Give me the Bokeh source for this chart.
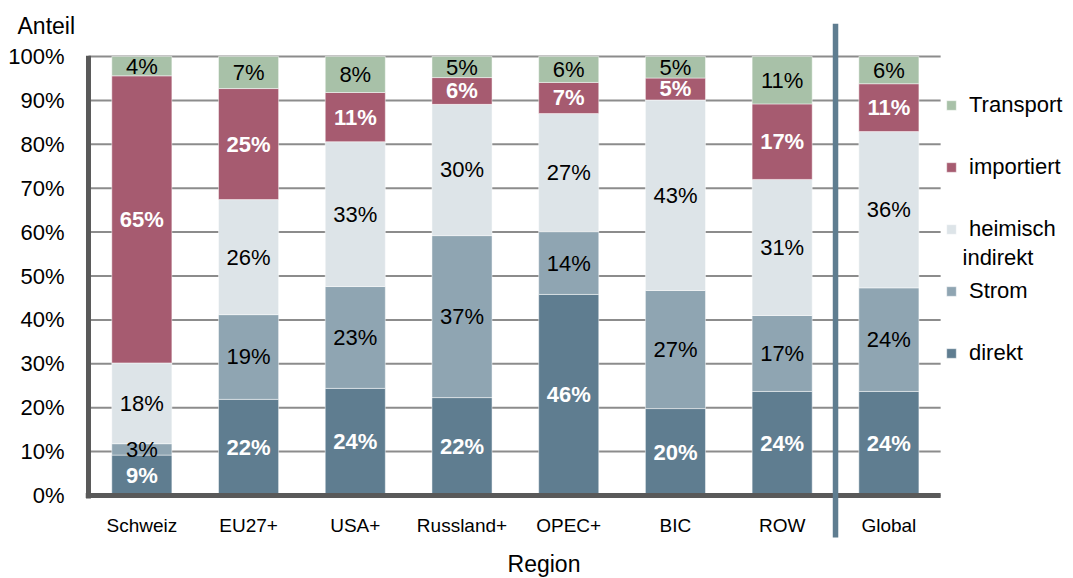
from bokeh.plotting import figure
from bokeh.models import (Range1d, FixedTicker, PrintfTickFormatter, Legend, LegendItem,
                          Label, ColumnDataSource)
from bokeh.core.properties import value
from bokeh.embed import file_html
from bokeh.resources import INLINE

# Anteile der Emissionen je Region (in %)
regions = ["Schweiz", "EU27+", "USA+", "Russland+", "OPEC+", "BIC", "ROW", "Global"]
direkt = [9.2, 21.9, 24.4, 22.3, 45.8, 19.8, 23.7, 23.7]
strom = [2.6, 19.3, 23.2, 36.9, 14.3, 26.9, 17.3, 23.6]
heimisch_indirekt = [18.4, 26.2, 33.0, 29.9, 26.9, 43.4, 31.0, 35.6]
importiert = [65.4, 25.3, 11.2, 6.1, 7.1, 5.0, 17.2, 10.9]
transport = [4.4, 7.3, 8.2, 4.8, 5.9, 4.9, 10.8, 6.2]

series_keys = ["direkt", "strom", "heimisch", "importiert", "transport"]
series_vals = [direkt, strom, heimisch_indirekt, importiert, transport]
legend_names = ["direkt", "Strom", "heimisch", "importiert", "Transport"]
colors = ["#5f7d90", "#8fa5b2", "#dde4e8", "#a65b70", "#a8c1a8"]
white_labels = {"direkt", "importiert"}
y_ticks = list(range(0, 101, 10))

FONT = "Liberation Sans"
Y0, Y1 = -18.91, 107.52
X0, X1 = -0.028, 9.23
n = len(regions)
xpos = [i + 0.5 for i in range(n)]          # bar centres, one unit per region
x_end = n                                    # right end of the plotting area
divider = n - 1                              # between regional bars and global bar

p = figure(width=1073, height=578, output_backend="svg", toolbar_location=None,
           x_range=Range1d(X0, X1), y_range=Range1d(Y0, Y1),
           min_border_left=85, min_border_right=0, min_border_top=23, min_border_bottom=0)
p.outline_line_color = None
p.background_fill_color = "white"
p.xgrid.visible = False
p.ygrid.visible = False

# horizontal grid lines at the y ticks, limited to the bar area
p.segment(x0=[0] * len(y_ticks), y0=y_ticks, x1=[x_end - 0.015] * len(y_ticks), y1=y_ticks,
          line_color="#8c8c8c", line_width=2)

data = {"x": xpos, "region": regions}
for k, v in zip(series_keys, series_vals):
    data[k] = v
src = ColumnDataSource(data)

renderers = p.vbar_stack(series_keys, x="x", width=0.563, color=colors,
                         line_color="white", line_width=0.8, line_alpha=0.6, source=src)

# segment labels at the middle of each stacked piece
wx, wy, wt, bx, by, bt = [], [], [], [], [], []
bottoms = [0.0] * n
for k, vals in zip(series_keys, series_vals):
    for i, v in enumerate(vals):
        mid = bottoms[i] + v / 2
        txt = f"{v:.0f}%"
        if k in white_labels:
            wx.append(xpos[i]); wy.append(mid); wt.append(txt)
        else:
            bx.append(xpos[i]); by.append(mid); bt.append(txt)
        bottoms[i] += v

p.text(x=bx, y=by, text=bt, text_align="center", text_baseline="middle",
       text_font=value(FONT), text_font_size="22px", text_color="black")
p.text(x=wx, y=wy, text=wt, text_align="center", text_baseline="middle",
       text_font=value(FONT), text_font_size="22px", text_font_style="bold",
       text_color="white")

# axis lines: left edge and thick baseline
p.segment(x0=[0], y0=[-0.7], x1=[0], y1=[100.2], line_color="#595959", line_width=5)
p.segment(x0=[X0], y0=[0], x1=[x_end - 0.015], y1=[0], line_color="#595959", line_width=5)
# divider between the regions and the global total
p.segment(x0=[divider], y0=[-9.57], x1=[divider], y1=[Y1], line_color="#5f7d90", line_width=5.5)

# y axis
p.yaxis.ticker = FixedTicker(ticks=y_ticks)
p.yaxis.formatter = PrintfTickFormatter(format="%d%%")
p.yaxis.axis_line_color = None
p.yaxis.major_tick_line_color = None
p.yaxis.minor_tick_line_color = None
p.yaxis.major_tick_out = 0
p.yaxis.major_label_standoff = 21
p.yaxis.major_label_text_font = FONT
p.yaxis.major_label_text_font_size = "22px"
p.yaxis.major_label_text_color = "black"

# x axis with region names under the bars
p.xaxis.ticker = FixedTicker(ticks=xpos)
p.xaxis.major_label_overrides = {x: r for x, r in zip(xpos, regions)}
p.xaxis.axis_line_color = None
p.xaxis.major_tick_line_color = None
p.xaxis.minor_tick_line_color = None
p.xaxis.major_tick_out = 0
p.xaxis.major_label_standoff = -64
p.xaxis.major_label_text_font = FONT
p.xaxis.major_label_text_font_size = "19px"
p.xaxis.major_label_text_color = "black"

# "Anteil" above the y axis
p.title.text = "Anteil"
p.title.align = "left"
p.title.offset = -68
p.title.standoff = -30
p.title.text_font = FONT
p.title.text_font_size = "23px"
p.title.text_font_style = "normal"
p.title.text_color = "black"

# "Region" under the region names
p.add_layout(Label(x=3.927, y=-15.72, text="Region", text_align="left",
                   text_baseline="middle", text_font=FONT, text_font_size="23px",
                   text_color="black"))

# legend right of the bars
items = [LegendItem(label=nm, renderers=[r]) for nm, r in zip(legend_names, renderers)][::-1]
legend = Legend(items=items, location=(860, 212), orientation="vertical",
                padding=0, margin=0, spacing=36, label_height=26,
                glyph_height=12, glyph_width=12, label_standoff=12,
                border_line_color=None, background_fill_alpha=0,
                label_text_font=FONT, label_text_font_size="22px",
                label_text_color="black")
p.add_layout(legend, "center")
p.add_layout(Label(x=8.19, y=54.2, text="indirekt", text_align="left",
                   text_baseline="middle", text_font=FONT, text_font_size="22px",
                   text_color="black"))

open("out.html", "w").write(file_html(p, INLINE))
